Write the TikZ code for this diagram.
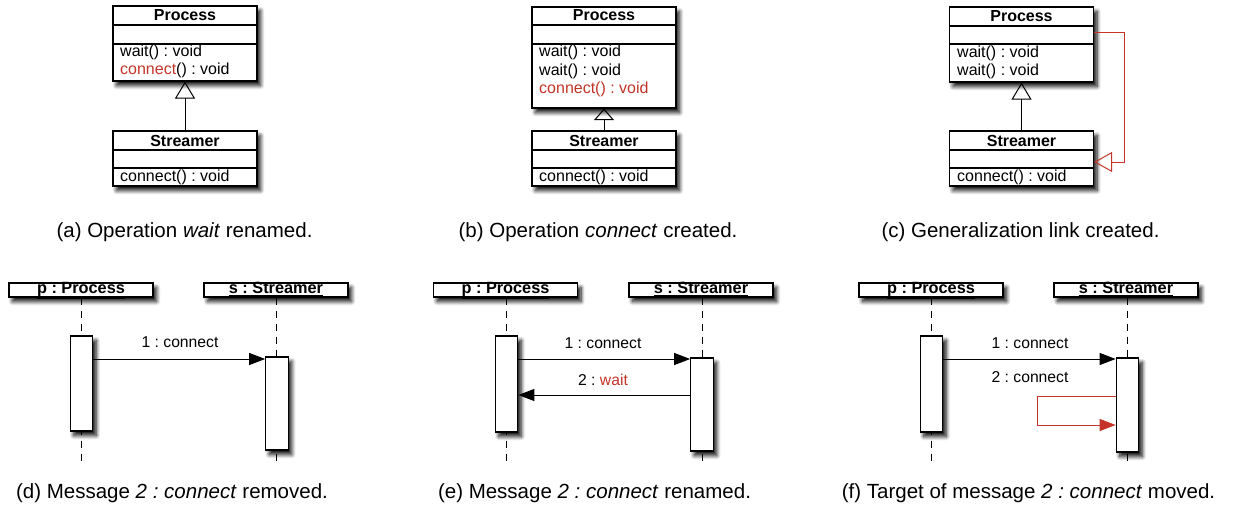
\documentclass[tikz,border=0pt]{standalone}
\usepackage{fontspec}
\setmainfont{Liberation Sans}
\usetikzlibrary{arrows.meta,shadows.blur}
\definecolor{chg}{RGB}{196,52,40}
\frenchspacing
\begin{document}
\begin{tikzpicture}[x=1pt,y=-1pt,
  softshadow/.style={blur shadow={shadow xshift=3.5pt,shadow yshift=-4.5pt,shadow blur radius=4pt,shadow blur steps=8,shadow opacity=95}},
  umlbox/.style={draw=black,line width=1.2pt,fill=white,inner sep=0pt,softshadow},
  cls/.style={umlbox,minimum width=144pt},
  actbar/.style={umlbox,minimum width=22.5pt},
  objbox/.style={umlbox,minimum width=144pt,minimum height=14pt},
  compline/.style={line width=1.1pt},
  oprow/.style={anchor=west,inner sep=0pt,font=\fontsize{16}{18}\selectfont},
  clshead/.style={inner sep=0pt,font=\fontsize{16}{18}\selectfont\bfseries},
  objname/.style={anchor=base,inner sep=0pt,font=\fontsize{16.3}{18}\selectfont\bfseries},
  msglabel/.style={inner sep=0pt,font=\fontsize{15.7}{18}\selectfont},
  subcaption/.style={anchor=base,inner sep=0pt,font=\fontsize{20.5}{24}\selectfont},
  lifeline/.style={line width=1pt,dash pattern=on 7pt off 6pt},
  msgarrow/.style={line width=1pt,-{Triangle[length=16pt,width=12pt]}},
  inherit/.style={line width=1pt,-{Triangle[open,length=#1,width=20pt]}},
]
\useasboundingbox (0,0) rectangle (1238,508);

% ---------- (a) class diagram ----------
\node[cls,minimum height=75pt] (pa) at (185,43.5) {};
\draw[compline] (pa.west |- 0,25) -- (pa.east |- 0,25);
\draw[compline] (pa.west |- 0,44) -- (pa.east |- 0,44);
\node[clshead] (pah) at (185,15.5) {Process};
\node[oprow] (pa1) at (120,52.5) {wait() : void};
\node[oprow] (pa2) at (120,70.5) {\textcolor{chg}{connect}() : void};
\node[cls,minimum height=55pt] (sa) at (185,158.5) {};
\draw[compline] (sa.west |- 0,150) -- (sa.east |- 0,150);
\draw[compline] (sa.west |- 0,168) -- (sa.east |- 0,168);
\node[clshead] (sah) at (185,140.5) {Streamer};
\node[oprow] (sa1) at (120,177) {connect() : void};
\draw[inherit=17pt] (sa.north) -- (pa.south);
\node[subcaption] (capa) at (184.5,237) {(a) Operation \textit{wait} renamed.};

% ---------- (b) class diagram ----------
\node[cls,minimum height=101pt] (pb) at (604,57.5) {};
\draw[compline] (pb.west |- 0,25) -- (pb.east |- 0,25);
\draw[compline] (pb.west |- 0,44) -- (pb.east |- 0,44);
\node[clshead] (pbh) at (604,15.5) {Process};
\node[oprow] (pb1) at (539,52.5) {wait() : void};
\node[oprow] (pb2) at (539,71) {wait() : void};
\node[oprow] (pb3) at (539,89.5) {\textcolor{chg}{connect() : void}};
\node[cls,minimum height=55pt] (sb) at (604,158.5) {};
\draw[compline] (sb.west |- 0,150) -- (sb.east |- 0,150);
\draw[compline] (sb.west |- 0,168) -- (sb.east |- 0,168);
\node[clshead] (sbh) at (604,140.5) {Streamer};
\node[oprow] (sb1) at (539,177) {connect() : void};
\draw[inherit=11.5pt] (sb.north) -- (pb.south);
\node[subcaption] (capb) at (598,237) {(b) Operation \textit{connect} created.};

% ---------- (c) class diagram ----------
\node[cls,minimum height=75pt] (pc) at (1021.5,44.5) {};
\draw[compline] (pc.west |- 0,26) -- (pc.east |- 0,26);
\draw[compline] (pc.west |- 0,44) -- (pc.east |- 0,44);
\node[clshead] (pch) at (1021.5,16) {Process};
\node[oprow] (pc1) at (957,53) {wait() : void};
\node[oprow] (pc2) at (957,71.5) {wait() : void};
\node[cls,minimum height=55pt] (sc) at (1021.5,158.5) {};
\draw[compline] (sc.west |- 0,150) -- (sc.east |- 0,150);
\draw[compline] (sc.west |- 0,168) -- (sc.east |- 0,168);
\node[clshead] (sch) at (1021.5,140.5) {Streamer};
\node[oprow] (sc1) at (957,177) {connect() : void};
\draw[inherit=17pt] (sc.north) -- (pc.south);
\coordinate (genA) at (1124,33);
\coordinate (genB) at (1124,162);
\draw[chg,line width=1pt,-{Triangle[open,length=18pt,width=20pt]}]
  (pc.east |- genA) -- (genA) -- (genB) -- (sc.east |- genB);
\node[subcaption] (capc) at (1020.5,237) {(c) Generalization link created.};

% ---------- (d) sequence diagram ----------
\node[objbox] (pd) at (81,290) {};
\node[objname] at (81,293.5) {\underline{p : Process}};
\node[objbox] (sd) at (276,290) {};
\node[objname] at (276,293.5) {\underline{s : Streamer}};
\coordinate (pdend) at (81,463);
\coordinate (sdend) at (276.5,463);
\draw[lifeline] (pd.south) -- (pdend);
\draw[lifeline] (sd.south -| sdend) -- (sdend);
\node[actbar,minimum height=95pt] (pda) at (81.5,383.5) {};
\node[actbar,minimum height=93pt] (sda) at (277,403.5) {};
\draw[msgarrow] (pda.east |- 0,359) -- (sda.west |- 0,359);
\node[msglabel] (md1) at (180,342) {1 : connect};
\node[subcaption] (capd) at (172,498.5) {(d) Message \textit{2 : connect} removed.};

% ---------- (e) sequence diagram ----------
\node[objbox] (pe) at (505.5,290) {};
\node[objname] at (505.5,293.5) {\underline{p : Process}};
\node[objbox] (se) at (701,290) {};
\node[objname] at (701,293.5) {\underline{s : Streamer}};
\coordinate (peend) at (506,463);
\coordinate (seend) at (702,463);
\draw[lifeline] (pe.south -| peend) -- (peend);
\draw[lifeline] (se.south -| seend) -- (seend);
\node[actbar,minimum height=96pt] (pea) at (506.5,384) {};
\node[actbar,minimum height=93pt] (sea) at (702,404.5) {};
\draw[msgarrow] (pea.east |- 0,359) -- (sea.west |- 0,359);
\draw[msgarrow] (sea.west |- 0,395) -- (pea.east |- 0,395);
\node[msglabel] (me1) at (603,343) {1 : connect};
\node[msglabel] (me2) at (603,379.5) {2 : \textcolor{chg}{wait}};
\node[subcaption] (cape) at (594.5,498.5) {(e) Message \textit{2 : connect} renamed.};

% ---------- (f) sequence diagram ----------
\node[objbox] (pf) at (931,290) {};
\node[objname] at (931,293.5) {\underline{p : Process}};
\node[objbox] (sf) at (1126,290) {};
\node[objname] at (1126,293.5) {\underline{s : Streamer}};
\coordinate (pfend) at (931,463);
\coordinate (sfend) at (1127,463);
\draw[lifeline] (pf.south -| pfend) -- (pfend);
\draw[lifeline] (sf.south -| sfend) -- (sfend);
\node[actbar,minimum height=96pt] (pfa) at (931.5,384) {};
\node[actbar,minimum height=94pt] (sfa) at (1127.5,405) {};
\draw[msgarrow] (pfa.east |- 0,359) -- (sfa.west |- 0,359);
\node[msglabel] (mf1) at (1030,343) {1 : connect};
\node[msglabel] (mf2) at (1030,377) {2 : connect};
\coordinate (loopA) at (1037,396);
\coordinate (loopB) at (1037,425);
\draw[chg,line width=1pt,-{Triangle[length=16pt,width=12pt]}]
  (sfa.west |- loopA) -- (loopA) -- (loopB) -- (sfa.west |- loopB);
\node[subcaption] (capf) at (1028.5,498.5) {(f) Target of message \textit{2 : connect} moved.};
\end{tikzpicture}
\end{document}
